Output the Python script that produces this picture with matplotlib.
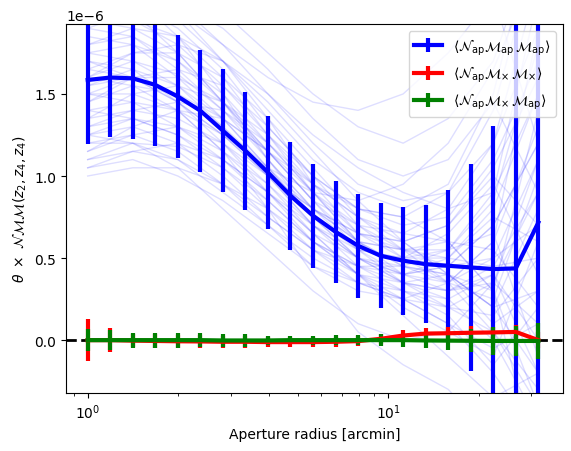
import numpy as np
import matplotlib
matplotlib.use("Agg")
import matplotlib.pyplot as plt
from matplotlib.ticker import MultipleLocator

# aperture radii (arcmin)
theta = np.logspace(0, 1.5, 21)

# mean signals (units of 1e-6)
nmm_apap = [1.585, 1.60, 1.595, 1.555, 1.484, 1.398, 1.276, 1.154, 1.022, 0.88, 0.758,
            0.66, 0.575, 0.514, 0.484, 0.463, 0.453, 0.443, 0.433, 0.437, 0.717]
nmm_apap_err = [0.39, 0.365, 0.37, 0.375, 0.374, 0.372, 0.374, 0.36, 0.345, 0.33, 0.316,
                0.31, 0.317, 0.32, 0.33, 0.36, 0.46, 0.63, 0.87, 1.6, 1.8]

nmm_xx = [0.0, 0.0, -0.003, -0.005, -0.007, -0.008, -0.01, -0.01, -0.012, -0.012, -0.012,
          -0.01, -0.006, 0.008, 0.028, 0.04, 0.042, 0.045, 0.047, 0.05, 0.0]
nmm_xx_err = [0.127, 0.072, 0.04, 0.04, 0.04, 0.04, 0.035, 0.035, 0.03, 0.03, 0.03,
              0.03, 0.03, 0.03, 0.035, 0.035, 0.04, 0.04, 0.035, 0.04, 0.05]

nmm_xap = [0.0, 0.0, 0.0, 0.0, 0.0, 0.0, -0.002, -0.002, -0.002, 0.0, 0.0,
           0.0, 0.0, 0.0, 0.0, -0.002, -0.003, -0.004, -0.005, -0.005, -0.005]
nmm_xap_err = [0.068, 0.06, 0.045, 0.045, 0.045, 0.042, 0.04, 0.038, 0.03, 0.025, 0.028,
               0.03, 0.032, 0.035, 0.04, 0.045, 0.055, 0.07, 0.085, 0.09, 0.11]

# individual realisations, sampled at every other aperture radius (units 1e-6)
real_theta = theta[::2]
realisations = [
    [1.10, 1.20, 1.18, 1.05, 0.85, 0.60, 0.40, 0.25, 0.10, -0.2, -0.6],
    [1.25, 1.35, 1.30, 1.15, 0.95, 0.70, 0.50, 0.40, 0.45, 0.70, 1.20],
    [1.45, 1.55, 1.50, 1.30, 1.05, 0.80, 0.60, 0.55, 0.60, 0.30, -0.40],
    [1.60, 1.70, 1.62, 1.40, 1.10, 0.80, 0.55, 0.40, 0.35, 0.60, 1.90],
    [1.80, 1.85, 1.70, 1.45, 1.15, 0.85, 0.70, 0.65, 0.80, 1.20, 2.20],
    [2.00, 1.95, 1.80, 1.55, 1.25, 0.95, 0.75, 0.60, 0.40, 0.10, 0.30],
    [2.20, 2.10, 1.85, 1.50, 1.10, 0.75, 0.50, 0.35, 0.30, 0.45, 0.90],
    [1.00, 1.05, 1.05, 0.95, 0.80, 0.60, 0.45, 0.35, 0.25, 0.00, -0.50],
    [1.35, 1.50, 1.55, 1.45, 1.25, 1.00, 0.80, 0.70, 0.75, 1.10, 1.70],
    [1.70, 1.65, 1.45, 1.20, 0.90, 0.60, 0.40, 0.30, 0.20, 0.35, 0.10],
    [1.55, 1.60, 1.50, 1.35, 1.15, 0.95, 0.80, 0.75, 0.90, 1.40, 2.40],
    [1.15, 1.30, 1.40, 1.35, 1.15, 0.85, 0.55, 0.35, 0.20, 0.05, -0.30],
    [1.90, 2.00, 1.95, 1.70, 1.35, 0.95, 0.65, 0.50, 0.50, 0.80, 1.50],
    [1.50, 1.45, 1.30, 1.10, 0.85, 0.60, 0.45, 0.40, 0.50, 0.75, 0.60],
    [1.30, 1.35, 1.25, 1.05, 0.80, 0.55, 0.35, 0.25, 0.20, 0.15, 0.50],
    [2.10, 2.05, 1.90, 1.65, 1.30, 1.00, 0.80, 0.75, 0.60, 0.30, -0.80],
    [1.65, 1.75, 1.75, 1.60, 1.35, 1.05, 0.75, 0.55, 0.45, 0.50, 1.10],
    [1.20, 1.25, 1.15, 0.95, 0.70, 0.45, 0.30, 0.25, 0.35, 0.60, 1.30],
    [1.85, 1.80, 1.60, 1.35, 1.05, 0.75, 0.55, 0.50, 0.65, 0.95, 0.40],
    [1.40, 1.45, 1.40, 1.25, 1.00, 0.70, 0.45, 0.30, 0.15, -0.15, 0.20],
    [1.75, 1.80, 1.70, 1.50, 1.20, 0.90, 0.60, 0.45, 0.40, 0.30, 1.40],
    [2.30, 2.20, 2.00, 1.70, 1.40, 1.10, 0.90, 0.80, 0.95, 1.50, 2.60],
    [1.05, 1.10, 1.00, 0.85, 0.65, 0.45, 0.35, 0.30, 0.25, 0.40, -0.20],
    [1.60, 1.55, 1.40, 1.15, 0.90, 0.65, 0.50, 0.45, 0.40, 0.20, 0.80],
    [1.45, 1.60, 1.65, 1.55, 1.30, 1.00, 0.70, 0.50, 0.35, 0.25, 1.00],
    [1.95, 1.90, 1.75, 1.45, 1.10, 0.80, 0.60, 0.55, 0.55, 0.65, -0.10],
    [1.25, 1.30, 1.20, 1.00, 0.75, 0.55, 0.45, 0.45, 0.55, 0.85, 1.80],
    [1.55, 1.65, 1.55, 1.35, 1.05, 0.75, 0.50, 0.35, 0.30, 0.40, 0.00],
    [1.70, 1.60, 1.45, 1.25, 1.00, 0.80, 0.65, 0.60, 0.70, 1.00, 0.70],
    [1.35, 1.40, 1.35, 1.20, 0.95, 0.65, 0.40, 0.20, 0.05, -0.10, 0.60],
    [1.15, 1.25, 1.30, 1.20, 1.00, 0.80, 0.65, 0.60, 0.70, 1.05, 1.60],
    [1.90, 1.85, 1.65, 1.40, 1.15, 0.90, 0.70, 0.55, 0.35, 0.05, -0.40],
    [1.50, 1.60, 1.60, 1.45, 1.20, 0.95, 0.75, 0.65, 0.60, 0.55, 0.20],
    [2.05, 2.10, 2.00, 1.80, 1.50, 1.20, 0.95, 0.85, 0.90, 1.20, 1.90],
    [1.30, 1.40, 1.45, 1.40, 1.20, 0.90, 0.60, 0.40, 0.30, 0.35, 0.90],
    [1.75, 1.70, 1.55, 1.30, 1.00, 0.70, 0.50, 0.40, 0.45, 0.70, 1.20],
    [1.10, 1.15, 1.10, 0.95, 0.75, 0.55, 0.40, 0.35, 0.40, 0.20, 0.30],
    [1.60, 1.75, 1.80, 1.70, 1.45, 1.15, 0.85, 0.60, 0.40, 0.20, -0.20],
    [2.15, 2.00, 1.75, 1.45, 1.15, 0.85, 0.60, 0.45, 0.35, 0.50, 0.70],
    [1.40, 1.35, 1.25, 1.10, 0.90, 0.70, 0.55, 0.50, 0.55, 0.90, 2.10],
    [1.80, 1.90, 1.85, 1.60, 1.25, 0.90, 0.65, 0.55, 0.50, 0.45, 0.50],
    [1.20, 1.20, 1.10, 0.90, 0.70, 0.50, 0.35, 0.25, 0.10, -0.05, 0.10],
    [2.25, 2.30, 2.20, 2.00, 1.75, 1.50, 1.30, 1.20, 1.35, 1.70, 2.50],
    [2.40, 2.30, 2.05, 1.80, 1.60, 1.45, 1.40, 1.50, 1.75, 2.10, 1.20],
    [1.50, 1.50, 1.40, 1.15, 0.80, 0.40, 0.05, -0.15, -0.30, -0.60, -1.00],
    [1.95, 2.05, 2.05, 1.90, 1.65, 1.35, 1.10, 1.00, 1.10, 1.45, 0.90],
    [1.25, 1.20, 1.05, 0.80, 0.55, 0.30, 0.10, 0.00, 0.05, 0.35, 1.10],
    [1.65, 1.60, 1.45, 1.25, 1.05, 0.90, 0.85, 0.95, 1.20, 1.65, 2.30],
    [1.05, 1.15, 1.20, 1.10, 0.90, 0.65, 0.40, 0.15, -0.10, -0.35, -0.20],
    [2.00, 1.95, 1.85, 1.70, 1.50, 1.25, 1.05, 0.90, 0.80, 0.90, 1.50],
]

labels = [r'$\langle \mathcal{N}_{\rm ap} \mathcal{M}_{\rm ap}\, \mathcal{M}_{\rm ap} \rangle$',
          r'$\langle \mathcal{N}_{\rm ap} \mathcal{M}_{\times}\, \mathcal{M}_{\times} \rangle$',
          r'$\langle \mathcal{N}_{\rm ap} \mathcal{M}_{\times}\, \mathcal{M}_{\rm ap} \rangle$']

scale = 1e-6

fig = plt.figure(figsize=(5.71, 4.52), dpi=100)
ax = fig.add_axes([0.1156, 0.128, 0.8704, 0.817])

for r in realisations:
    ax.plot(real_theta, np.array(r) * scale, color='blue', alpha=0.13, lw=1)

ax.axhline(0, color='k', ls='--', lw=2)

ax.errorbar(theta, np.array(nmm_apap) * scale, yerr=np.array(nmm_apap_err) * scale,
            color='blue', lw=3, elinewidth=3, capsize=0, label=labels[0])
ax.errorbar(theta, np.array(nmm_xx) * scale, yerr=np.array(nmm_xx_err) * scale,
            color='red', lw=3, elinewidth=3, capsize=0, label=labels[1])
ax.errorbar(theta, np.array(nmm_xap) * scale, yerr=np.array(nmm_xap_err) * scale,
            color='green', lw=3, elinewidth=3, capsize=0, label=labels[2])

ax.set_xscale('log')
ax.set_xlim(0.847, 38.2)
ax.set_ylim(-0.323e-6, 1.927e-6)
ax.yaxis.set_major_locator(MultipleLocator(0.5e-6))
ax.set_xlabel('Aperture radius [arcmin]')
ax.set_ylabel(r'$\theta\ \times\ \mathcal{NMM}(z_2, z_4, z_4)$')
ax.legend(loc='upper right')

fig.savefig('out.png', dpi=100)
